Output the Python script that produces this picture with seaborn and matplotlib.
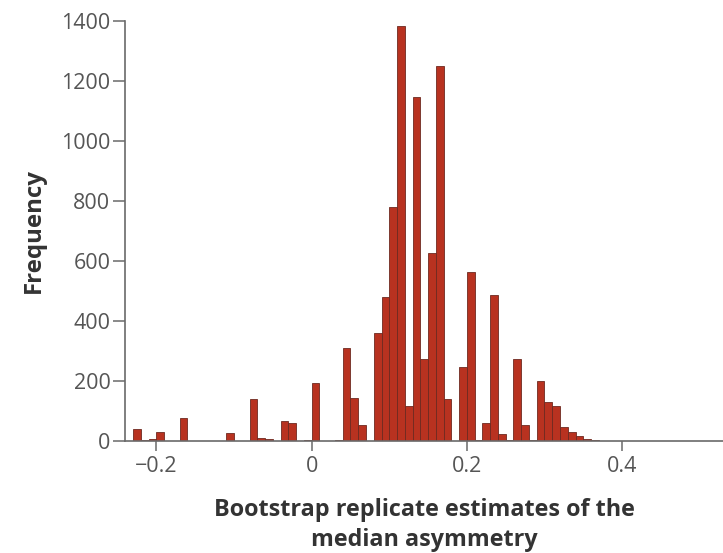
import numpy as np
import pandas as pd
import matplotlib
matplotlib.use("Agg")
import matplotlib.pyplot as plt
import seaborn as sns

# Bin centres (bootstrap median asymmetry) and frequencies
bin_centers = [-0.225, -0.215, -0.205, -0.195, -0.185, -0.175, -0.165, -0.155,
               -0.145, -0.135, -0.125, -0.115, -0.105, -0.095, -0.085, -0.075,
               -0.065, -0.055, -0.045, -0.035, -0.025, -0.015, -0.005, 0.005,
               0.015, 0.025, 0.035, 0.045, 0.055, 0.065, 0.075, 0.085,
               0.095, 0.105, 0.115, 0.125, 0.135, 0.145, 0.155, 0.165,
               0.175, 0.185, 0.195, 0.205, 0.215, 0.225, 0.235, 0.245,
               0.255, 0.265, 0.275, 0.285, 0.295, 0.305, 0.315, 0.325,
               0.335, 0.345, 0.355, 0.365]
frequencies = [40, 3, 7, 31, 0, 0, 75, 0,
               0, 0, 0, 0, 25, 0, 0, 139,
               10, 7, 0, 68, 60, 0, 3, 192,
               0, 0, 3, 309, 142, 53, 0, 361,
               479, 781, 1383, 117, 1146, 272, 626, 1248,
               139, 0, 246, 562, 3, 61, 487, 23,
               2, 272, 53, 3, 200, 131, 118, 47,
               31, 15, 5, 2]

x_ticks = [-0.2, 0, 0.2, 0.4]
x_tick_labels = ["\u22120.2", "0", "0.2", "0.4"]
y_ticks = [0, 200, 400, 600, 800, 1000, 1200, 1400]

df = pd.DataFrame({"asym": bin_centers, "freq": frequencies})

sns.set_style("white")
plt.rcParams["font.family"] = ["Open Sans", "DejaVu Sans"]

fig = plt.figure(figsize=(7.23, 5.53), dpi=100)
ax = fig.add_axes([125 / 723, 1 - 441 / 553, 1 - 125 / 723, (441 - 20.7) / 553])

sns.histplot(data=df, x="asym", weights="freq", binwidth=0.01,
             binrange=(-0.23, 0.37), color="#b83220", alpha=1.0,
             edgecolor="#6e2a20", linewidth=0.6, ax=ax)

ax.set_xlim(-0.2405, 0.53)
ax.set_ylim(0, 1400)
ax.set_xticks(x_ticks)
ax.set_xticklabels(x_tick_labels)
ax.set_yticks(y_ticks)

for s in ["top", "right"]:
    ax.spines[s].set_visible(False)
for s in ["left", "bottom"]:
    ax.spines[s].set_color("#6a6a6a")
    ax.spines[s].set_linewidth(1.2)

ax.tick_params(axis="y", direction="out", length=8.5, width=1.1, color="#6a6a6a",
               labelsize=15.5, labelcolor="#555555", pad=2, left=True)
ax.tick_params(axis="x", direction="out", length=7, width=1.1, color="#6a6a6a",
               labelsize=15.5, labelcolor="#555555", pad=4, bottom=True)

ax.set_xlabel("Bootstrap replicate estimates of the\nmedian asymmetry",
              fontsize=16.8, fontweight="bold", color="#333333",
              labelpad=15, linespacing=1.3)
ax.set_ylabel("Frequency", fontsize=17.3, fontweight="bold", color="#333333",
              labelpad=11)

fig.savefig("out.png", dpi=100)
